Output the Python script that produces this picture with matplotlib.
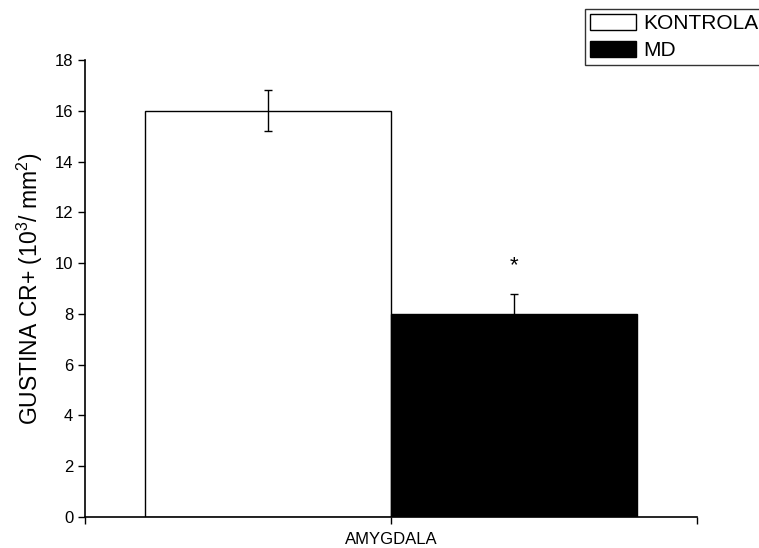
import matplotlib
matplotlib.use('Agg')
import matplotlib.pyplot as plt
from matplotlib.patches import Patch

plt.rcParams['font.family'] = ['Liberation Sans', 'DejaVu Sans']
plt.rcParams['mathtext.fontset'] = 'custom'
plt.rcParams['mathtext.rm'] = 'Liberation Sans'
plt.rcParams['mathtext.it'] = 'Liberation Sans'

# podaci
groups = ['KONTROLA', 'MD']
region = 'AMYGDALA'
values = [16.0, 8.0]
errors = [0.8, 0.8]
colors = ['white', 'black']
signif = ['', '*']

fig = plt.figure(figsize=(7.59, 5.48), dpi=100)
ax = fig.add_axes([85 / 759, 1 - 517 / 548, 612 / 759, 457 / 548])

pos = [-0.5, 0.5]
ax.bar(pos, values, width=1.0, color=colors, edgecolor='black', linewidth=1.0, zorder=2)
ax.errorbar(pos, values, yerr=errors, fmt='none', ecolor='black', elinewidth=1.0,
            capsize=3, capthick=1.0, zorder=3)
for x, v, e, s in zip(pos, values, errors, signif):
    if s:
        ax.text(x, v + e + 1.1, s, ha='center', va='center', fontsize=16)

xl = 1.246
ax.set_xlim(-xl, xl)
ax.set_ylim(0, 18)
ax.set_yticks(range(0, 19, 2))
ax.set_xticks([-xl, 0, xl])
ax.set_xticklabels(['', region, ''])
ax.tick_params(direction='out', length=5, width=1.0, labelsize=12)
ax.tick_params(axis='x', labelsize=12, pad=6)
ax.spines['top'].set_visible(False)
ax.spines['right'].set_visible(False)
ax.spines['left'].set_linewidth(1.2)
ax.spines['bottom'].set_linewidth(1.2)
ax.set_ylabel('GUSTINA CR+ (10$^3$/ mm$^2$)', fontsize=16.5, labelpad=7)

handles = [Patch(facecolor=c, edgecolor='black', linewidth=1.0) for c in colors]
fig.legend(handles, groups, loc='upper left', bbox_to_anchor=(585 / 759, 1 - 9 / 548),
           fontsize=15, frameon=True, fancybox=False, edgecolor='black',
           handlelength=2.2, handleheight=0.8, handletextpad=0.35,
           labelspacing=0.35, borderpad=0.25, borderaxespad=0)

fig.savefig('out.png', dpi=100)
